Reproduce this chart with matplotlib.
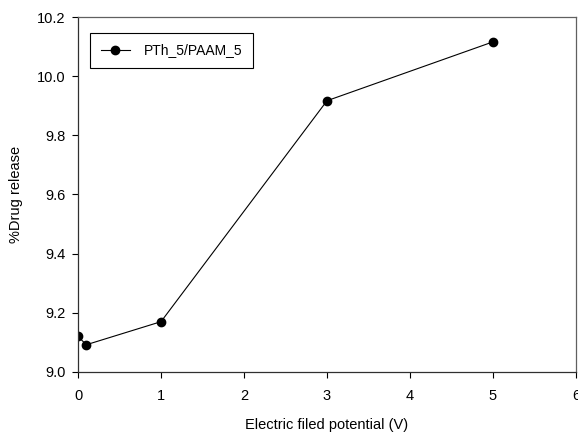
import matplotlib.pyplot as plt
import numpy as np

plt.rcParams['font.family'] = ['Liberation Sans', 'DejaVu Sans']

# data
potential = [0, 0.1, 1, 3, 5]
release = [9.12, 9.092, 9.17, 9.917, 10.116]

fig = plt.figure(figsize=(5.78, 4.32), dpi=100)
ax = fig.add_axes([0.135, 0.139, 0.8615, 0.8216])

ax.plot(potential, release, 'k-', marker='o', markersize=6, linewidth=0.8,
        label='PTh_5/PAAM_5')

ax.set_xlim(0, 6)
ax.set_ylim(9.0, 10.2)
ax.set_xticks(np.arange(0, 7, 1))
ax.set_yticks(np.arange(9.0, 10.21, 0.2))
ax.set_yticklabels(['%.1f' % v for v in np.arange(9.0, 10.21, 0.2)])

ax.tick_params(direction='out', length=4, width=0.8, labelsize=10.5, pad=5)
ax.tick_params(axis='x', pad=8)
for s in ['top', 'right']:
    ax.spines[s].set_color('#606060')
for s in ['left', 'bottom']:
    ax.spines[s].set_color('#303030')
for s in ax.spines.values():
    s.set_linewidth(0.9)

ax.set_xlabel('Electric filed potential (V)', fontsize=10.5, labelpad=11)
ax.set_ylabel('%Drug release', fontsize=10.5, labelpad=10)

leg = ax.legend(loc='upper left', bbox_to_anchor=(0.025, 0.955), fontsize=10,
                fancybox=False, edgecolor='black', framealpha=1,
                borderpad=0.75, handlelength=2.1, handletextpad=1.0,
                borderaxespad=0)
leg.get_frame().set_linewidth(0.8)

plt.savefig('out.png', dpi=100)
